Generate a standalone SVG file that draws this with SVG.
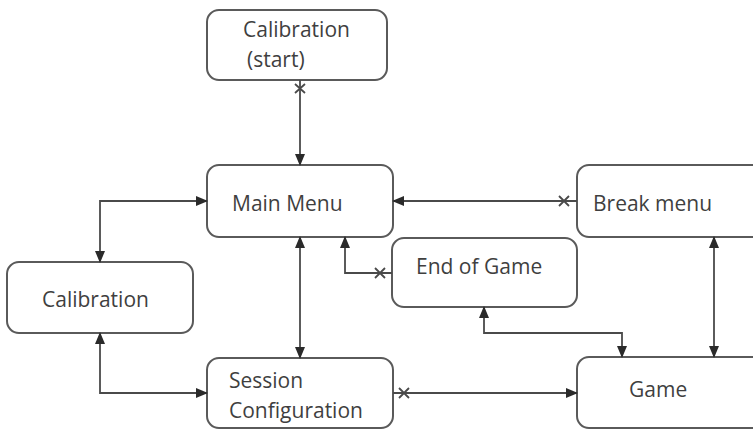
<svg xmlns="http://www.w3.org/2000/svg" width="753" height="430" viewBox="0 0 753 430">
  <style>
    .box { fill: #ffffff; stroke: #5a5a5a; stroke-width: 2; }
    .lbl { font-family: "Open Sans", "Liberation Sans", sans-serif; font-size: 21px; fill: #3f3f3f; }
    .wire { fill: none; stroke: #4a4a4a; stroke-width: 1.8; marker-end: url(#arrow); }
    .both { marker-start: url(#arrowStart); }
    .cross { stroke: #4a4a4a; stroke-width: 1.8; fill: none; }
  </style>
  <defs>
    <marker id="arrow" viewBox="0 0 12 10" refX="11" refY="5" markerWidth="12" markerHeight="10" markerUnits="userSpaceOnUse" orient="auto">
      <path d="M0,0 L12,5 L0,10 z" fill="#2a2a2a" />
    </marker>
    <marker id="arrowStart" viewBox="0 0 12 10" refX="11" refY="5" markerWidth="12" markerHeight="10" markerUnits="userSpaceOnUse" orient="auto-start-reverse">
      <path d="M0,0 L12,5 L0,10 z" fill="#2a2a2a" />
    </marker>
  </defs>

  <rect width="753" height="430" fill="#ffffff" />

  <g id="calibration-start">
    <rect class="box" x="207" y="10" width="180" height="70" rx="12" />
    <text class="lbl" x="243" y="37">Calibration</text>
    <text class="lbl" x="247" y="67">(start)</text>
  </g>

  <g id="main-menu">
    <rect class="box" x="207" y="165" width="186" height="72" rx="12" />
    <text class="lbl" x="232" y="211">Main Menu</text>
  </g>

  <g id="break-menu">
    <rect class="box" x="577" y="165" width="190" height="72" rx="12" />
    <text class="lbl" x="593" y="211">Break menu</text>
  </g>

  <g id="end-of-game">
    <rect class="box" x="392" y="238" width="185" height="69" rx="12" />
    <text class="lbl" x="416" y="274">End of Game</text>
  </g>

  <g id="calibration">
    <rect class="box" x="7" y="262" width="186" height="71" rx="12" />
    <text class="lbl" x="42" y="307">Calibration</text>
  </g>

  <g id="session-configuration">
    <rect class="box" x="207" y="358" width="186" height="70" rx="12" />
    <text class="lbl" x="229" y="388">Session</text>
    <text class="lbl" x="229" y="418">Configuration</text>
  </g>

  <g id="game">
    <rect class="box" x="577" y="357" width="190" height="71" rx="12" />
    <text class="lbl" x="629" y="397">Game</text>
  </g>

  <g id="connectors">
    <!-- start calibration to main menu -->
    <path class="wire" d="M300,80 V165" />
    <path class="cross" d="M295,84 L305,93 M305,84 L295,93" />

    <!-- main menu <-> calibration -->
    <path class="wire both" d="M100,262 V201 H207" />

    <!-- calibration <-> session configuration -->
    <path class="wire both" d="M100,333 V393 H207" />

    <!-- main menu <-> session configuration -->
    <path class="wire both" d="M300,237 V358" />

    <!-- break menu to main menu -->
    <path class="wire" d="M577,201 H393" />
    <path class="cross" d="M559,196 L569,206 M569,196 L559,206" />

    <!-- end of game to main menu -->
    <path class="wire" d="M392,273 H345 V237" />
    <path class="cross" d="M375,268 L385,278 M385,268 L375,278" />

    <!-- end of game <-> game -->
    <path class="wire both" d="M484,307 V333 H622 V357" />

    <!-- break menu <-> game -->
    <path class="wire both" d="M714,237 V357" />

    <!-- session configuration to game -->
    <path class="wire" d="M393,393 H577" />
    <path class="cross" d="M399,388 L409,398 M409,388 L399,398" />
  </g>
</svg>
